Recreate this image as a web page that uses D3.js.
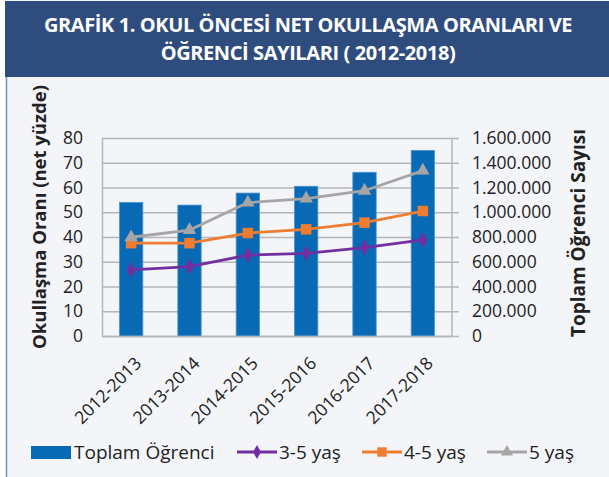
<!DOCTYPE html>
<html>
<head>
<meta charset="utf-8">
<script src="https://cdn.jsdelivr.net/npm/d3@7"></script>
<style>
  body { margin: 0; background: #fff; }
  svg text { font-family: "Open Sans", sans-serif; fill: #222; }
</style>
</head>
<body>
<div id="chart"></div>
<script>
// Daten
const years = ["2012-2013", "2013-2014", "2014-2015", "2015-2016", "2016-2017", "2017-2018"];
const toplamOgrenci = [1080000, 1058000, 1155000, 1210000, 1323000, 1500000];
const yas35 = [26.7, 28.0, 32.7, 33.4, 35.7, 38.8];
const yas45 = [37.5, 37.5, 41.6, 43.1, 45.8, 50.5];
const yas5 = [39.9, 42.8, 53.9, 55.5, 58.7, 66.8];
const leftTicks = [0, 10, 20, 30, 40, 50, 60, 70, 80];
const rightTicks = [0, 200000, 400000, 600000, 800000, 1000000, 1200000, 1400000, 1600000];

const W = 609, H = 477;
const svg = d3.select("#chart").append("svg")
    .attr("width", W).attr("height", H);

// Hintergrund + Kopf
svg.append("rect").attr("x", 6).attr("y", 0).attr("width", W - 6).attr("height", H).attr("fill", "#f3f5f8");
svg.append("line").attr("x1", 6.5).attr("x2", 6.5).attr("y1", 77).attr("y2", H).attr("stroke", "#6f8fc0").attr("stroke-width", 1.5);
svg.append("rect").attr("x", 5).attr("y", 1).attr("width", W - 5).attr("height", 76).attr("fill", "#2f4c7e");

const titleLines = ["GRAFİK 1. OKUL ÖNCESİ NET OKULLAŞMA ORANLARI VE", "ÖĞRENCİ SAYILARI ( 2012-2018)"];
svg.selectAll(".title").data(titleLines).enter().append("text")
    .attr("class", "title")
    .attr("x", 308).attr("y", (d, i) => 32 + i * 28)
    .attr("text-anchor", "middle")
    .style("font-size", "20px").style("font-weight", "bold")
    .style("fill", "#fff").style("letter-spacing", "-0.4px")
    .text(d => d);

// Skalen
const plot = { left: 102, right: 452, top: 138, bottom: 336 };
const x = d3.scaleBand().domain(years).range([plot.left, plot.right]).paddingInner(0.6).paddingOuter(0.3);
const xc = d => x(d) + x.bandwidth() / 2;
const yL = d3.scaleLinear().domain([0, 80]).range([plot.bottom, plot.top]);
const yR = d3.scaleLinear().domain([0, 1600000]).range([plot.bottom, plot.top]);

// Gitterlinien
svg.append("g")
    .attr("transform", `translate(${plot.left},0)`)
    .call(d3.axisLeft(yL).tickValues(leftTicks).tickSize(-(plot.right - plot.left)).tickFormat(""))
    .call(g => g.select(".domain").remove())
    .call(g => g.selectAll("line").attr("stroke", "#b4b6b9").attr("stroke-width", 1.5));

// Balken
svg.selectAll(".bar").data(years).enter().append("rect")
    .attr("class", "bar")
    .attr("x", d => x(d))
    .attr("width", x.bandwidth())
    .attr("y", (d, i) => yR(toplamOgrenci[i]))
    .attr("height", (d, i) => plot.bottom - yR(toplamOgrenci[i]))
    .attr("fill", "#0869b5")
    .attr("stroke", "#4d95d0").attr("stroke-width", 0.8);

// Achsen
const axL = svg.append("g").attr("transform", `translate(${plot.left},0)`)
    .call(d3.axisLeft(yL).tickValues(leftTicks).tickSize(0).tickPadding(19));
axL.select(".domain").attr("stroke", "#b4b6b9").attr("stroke-width", 1.5);
axL.selectAll("text").style("font-size", "17.5px").style("fill", "#222");

const fmt = v => d3.format(",")(v).replace(/,/g, ".");
const axR = svg.append("g").attr("transform", `translate(${plot.right},0)`)
    .call(d3.axisRight(yR).tickValues(rightTicks).tickSize(7).tickPadding(13).tickFormat(fmt));
axR.select(".domain").attr("stroke", "#b4b6b9").attr("stroke-width", 1.5).attr("d", `M0,${plot.top}V${plot.bottom}`);
axR.selectAll("line").attr("stroke", "#b4b6b9").attr("stroke-width", 1.5);
axR.selectAll("text").style("font-size", "17.5px").style("fill", "#222");

const axB = svg.append("g").attr("transform", `translate(0,${plot.bottom})`)
    .call(d3.axisBottom(x).tickSize(0).tickPadding(0));
axB.select(".domain").attr("stroke", "#b4b6b9").attr("stroke-width", 1.5);
axB.selectAll("text")
    .style("font-size", "17.5px").style("fill", "#222")
    .attr("text-anchor", "end")
    .attr("transform", "translate(7,24) rotate(-45)")
    .attr("dy", "0.35em");

// Achsentitel
svg.append("text")
    .attr("transform", `translate(46,217) rotate(-90)`)
    .attr("text-anchor", "middle")
    .style("font-size", "18.5px").style("font-weight", "bold")
    .text("Okullaşma Oranı (net yüzde)");
svg.append("text")
    .attr("transform", `translate(585,233) rotate(-90)`)
    .attr("text-anchor", "middle")
    .style("font-size", "19px").style("font-weight", "bold")
    .text("Toplam Öğrenci Sayısı");

// Linien
const series = [
    { name: "3-5 yaş", values: yas35, color: "#7030a0", symbol: d3.symbolDiamond, size: 70 },
    { name: "4-5 yaş", values: yas45, color: "#ed7d31", symbol: d3.symbolSquare, size: 110 },
    { name: "5 yaş", values: yas5, color: "#a5a5a5", symbol: d3.symbolTriangle, size: 80 }
];
const line = d3.line().x((d, i) => xc(years[i])).y(d => yL(d));
series.forEach(s => {
    svg.append("path").datum(s.values)
        .attr("d", line).attr("fill", "none")
        .attr("stroke", s.color).attr("stroke-width", 2.8);
    svg.selectAll(null).data(s.values).enter().append("path")
        .attr("d", d3.symbol().type(s.symbol).size(s.size))
        .attr("transform", (d, i) => `translate(${xc(years[i])},${yL(d)})`)
        .attr("fill", s.color);
});

// Legende
const lg = svg.append("g").attr("transform", "translate(0,452)");
lg.append("rect").attr("x", 31).attr("y", -6).attr("width", 40).attr("height", 13).attr("fill", "#0869b5");
lg.append("text").attr("x", 74).attr("y", 0).attr("dy", "0.35em").style("font-size", "19px").text("Toplam Öğrenci");
const legX = [237, 362, 487];
series.forEach((s, i) => {
    lg.append("line").attr("x1", legX[i]).attr("x2", legX[i] + 40).attr("y1", 0).attr("y2", 0)
        .attr("stroke", s.color).attr("stroke-width", 2.8);
    lg.append("path").attr("d", d3.symbol().type(s.symbol).size(s.size * 0.8))
        .attr("transform", `translate(${legX[i] + 20},0)`).attr("fill", s.color);
    lg.append("text").attr("x", legX[i] + 42).attr("y", 0).attr("dy", "0.35em")
        .style("font-size", "19px").text(s.name);
});
</script>
</body>
</html>
